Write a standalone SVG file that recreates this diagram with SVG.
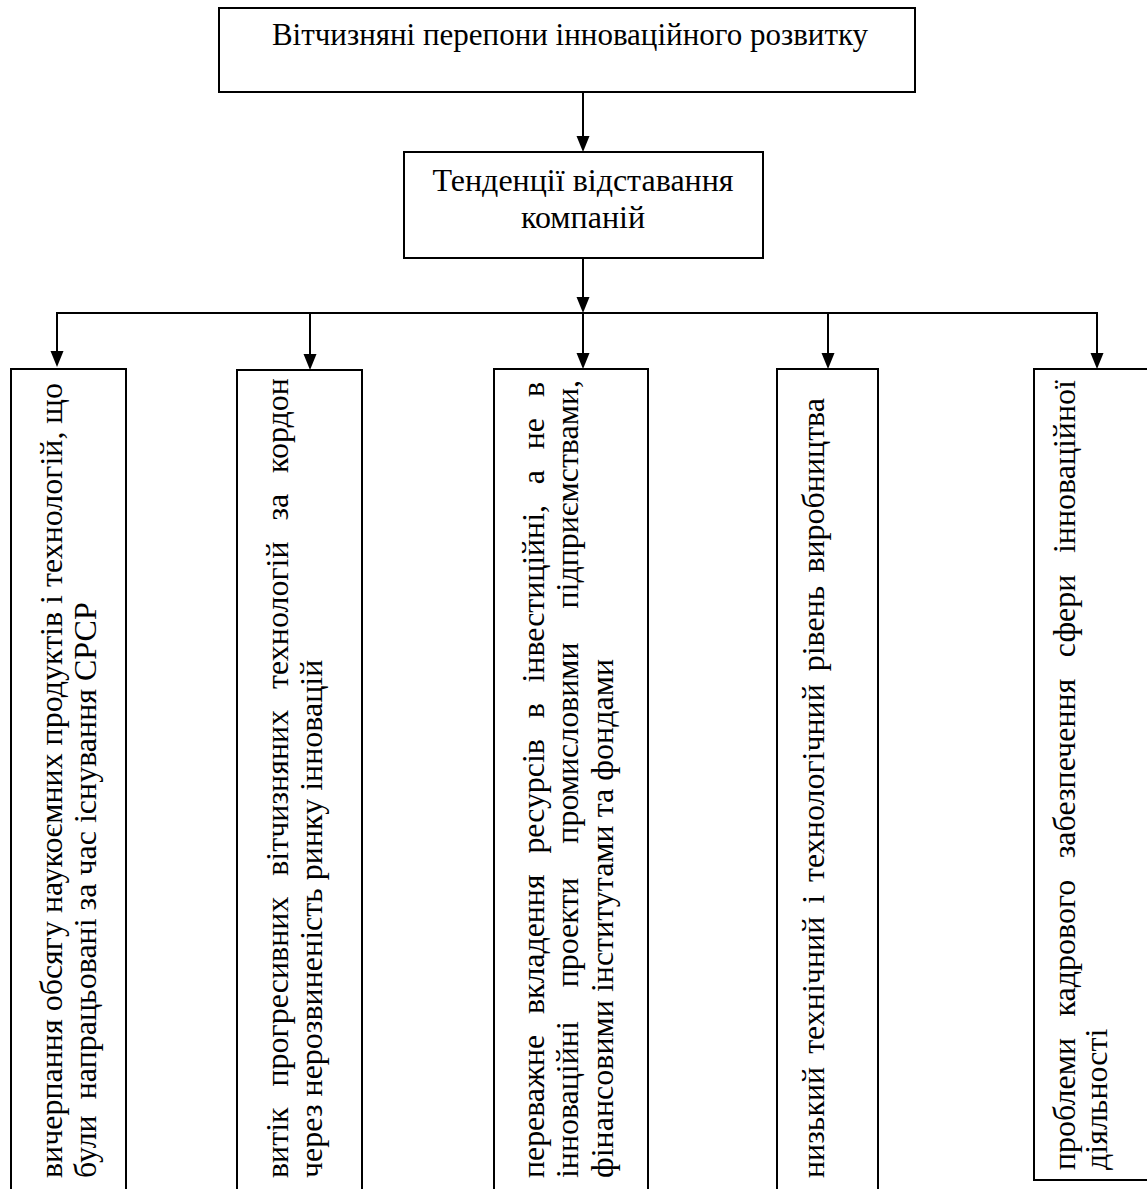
<svg xmlns="http://www.w3.org/2000/svg" width="1147" height="1189" viewBox="0 0 1147 1189">
  <style>
    text { font-family: 'Liberation Serif', 'Times New Roman', serif; font-size: 32px; fill: #000000; }
    .box { fill: #ffffff; stroke: #000000; stroke-width: 2; }
    .link { fill: none; stroke: #000000; stroke-width: 2; }
  </style>
  <defs>
    <marker id="arrow" markerUnits="userSpaceOnUse" markerWidth="16" markerHeight="14" refX="10" refY="7" orient="auto">
      <path d="M0,0.5 L16,7 L0,13.5 z" fill="#000000"/>
    </marker>
  </defs>
  <rect width="1147" height="1189" fill="#ffffff"/>

  <!-- connectors: trunk, bus line and drops to each factor -->
  <g id="connectors">
    <line class="link" x1="583" y1="92" x2="583" y2="146" marker-end="url(#arrow)"/>
    <line class="link" x1="583" y1="258" x2="583" y2="307" marker-end="url(#arrow)"/>
    <line class="link" x1="57" y1="313" x2="1097" y2="313"/>
    <line class="link" x1="57" y1="312" x2="57" y2="361" marker-end="url(#arrow)"/>
    <line class="link" x1="310" y1="312" x2="310" y2="364" marker-end="url(#arrow)"/>
    <line class="link" x1="583" y1="313" x2="583" y2="363" marker-end="url(#arrow)"/>
    <line class="link" x1="828" y1="312" x2="828" y2="363" marker-end="url(#arrow)"/>
    <line class="link" x1="1097" y1="312" x2="1097" y2="363" marker-end="url(#arrow)"/>
  </g>

  <g id="node-barriers">
    <rect class="box" x="219" y="8" width="696" height="84"/>
    <text x="570" y="45" text-anchor="middle" style="font-size:31px">Вітчизняні перепони інноваційного розвитку</text>
  </g>

  <g id="node-trends">
    <rect class="box" x="404" y="152" width="359" height="106"/>
    <text x="583" y="191" text-anchor="middle">Тенденції відставання</text>
    <text x="583" y="228" text-anchor="middle">компаній</text>
  </g>

  <!-- factor boxes: text runs bottom to top -->
  <g id="node-depletion">
    <rect class="box" x="11" y="369" width="115" height="830"/>
    <text transform="translate(62,1178) rotate(-90)" textLength="795" lengthAdjust="spacing">вичерпання обсягу наукоємних продуктів і технологій, що</text>
    <text transform="translate(96,1178) rotate(-90)">були&#160; напрацьовані за час існування СРСР</text>
  </g>

  <g id="node-outflow">
    <rect class="box" x="237" y="370" width="125" height="830"/>
    <text transform="translate(288,1178) rotate(-90)" word-spacing="12.8" textLength="800" lengthAdjust="spacing">витік прогресивних вітчизняних технологій за кордон</text>
    <text transform="translate(322,1178) rotate(-90)">через нерозвиненість ринку інновацій</text>
  </g>

  <g id="node-investment">
    <rect class="box" x="494" y="369" width="154" height="830"/>
    <text transform="translate(544,1178) rotate(-90)" word-spacing="13" textLength="796" lengthAdjust="spacing">переважне вкладення ресурсів в інвестиційні, а не в</text>
    <text transform="translate(578,1178) rotate(-90)" word-spacing="26" textLength="798" lengthAdjust="spacing">інноваційні проекти промисловими підприємствами,</text>
    <text transform="translate(613,1178) rotate(-90)">фінансовими інститутами та фондами</text>
  </g>

  <g id="node-technology">
    <rect class="box" x="777" y="369" width="101" height="830"/>
    <text transform="translate(824,1178) rotate(-90)" word-spacing="5" textLength="780" lengthAdjust="spacing">низький технічний і технологічний рівень виробництва</text>
  </g>

  <g id="node-staff">
    <rect class="box" x="1034" y="369" width="130" height="811"/>
    <text transform="translate(1075,1170) rotate(-90)" word-spacing="13.5" textLength="790" lengthAdjust="spacing">проблеми кадрового забезпечення сфери інноваційної</text>
    <text transform="translate(1107,1170) rotate(-90)">діяльності</text>
  </g>
</svg>
